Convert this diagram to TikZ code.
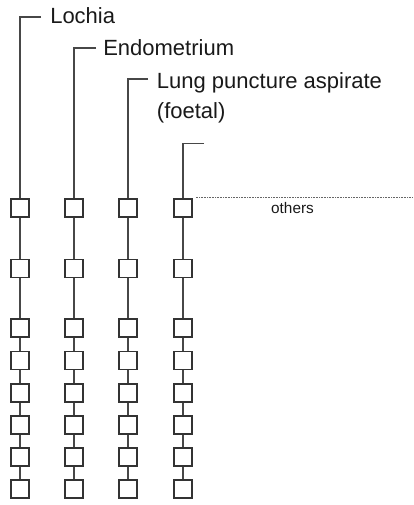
\documentclass[tikz,border=0pt]{standalone}
\usepackage{fontspec}
\setmainfont{Liberation Sans}
\begin{document}
\begin{tikzpicture}[x=0.75pt,y=-0.75pt,
  sq/.style={draw=black!80, line width=1.1pt, minimum size=13.2pt, inner sep=0pt, fill=white},
  link/.style={draw=black!72, line width=1pt},
  lbl/.style={font=\fontsize{16.5}{22.5}\selectfont, inner sep=0pt, anchor=base west, text=black!90},
  dots/.style={draw=black!60, line width=0.5pt, dash pattern=on 0.6pt off 0.6pt}]
\useasboundingbox (0,0) rectangle (413,505);
% boxes
\foreach \c/\x in {1/20,2/74,3/128,4/183}{
  \foreach \r/\y in {1/208,2/268.5,3/328,4/360.5,5/393,6/425,7/457,8/489}{
    \node[sq] (b\c-\r) at (\x,\y) {};
  }
}
% chains
\foreach \c in {1,2,3,4}{
  \foreach \r [count=\n from 2] in {1,...,7}{
    \draw[link] (b\c-\r) -- (b\c-\n);
  }
}
% top stubs
\coordinate (h1) at (20,17);    \coordinate (e1) at (41,17);
\coordinate (h2) at (74,48);    \coordinate (e2) at (96,48);
\coordinate (h3) at (128,79);   \coordinate (e3) at (148,79);
\coordinate (h4) at (183,143.5);\coordinate (e4) at (204,143.5);
\foreach \c in {1,2,3,4}{
  \draw[link] (e\c) -- (h\c) -- (b\c-1.north);
}
% labels
\node[lbl] (L1) at (50,24) {Lochia};
\node[lbl] (L2) at (103,55.7) {Endometrium};
\node[lbl, align=left] (L3) at (156.7,118.3) {Lung puncture aspirate\\(foetal)};
% others
\coordinate (d) at (413,197.5);
\draw[dots] ([xshift=2.5pt]b4-1.north east |- d) -- (d);
\node[font=\fontsize{11.5}{14}\selectfont, inner sep=0pt, anchor=base, text=black!90] (oth) at (292.5,213.3) {others};
\end{tikzpicture}
\end{document}
